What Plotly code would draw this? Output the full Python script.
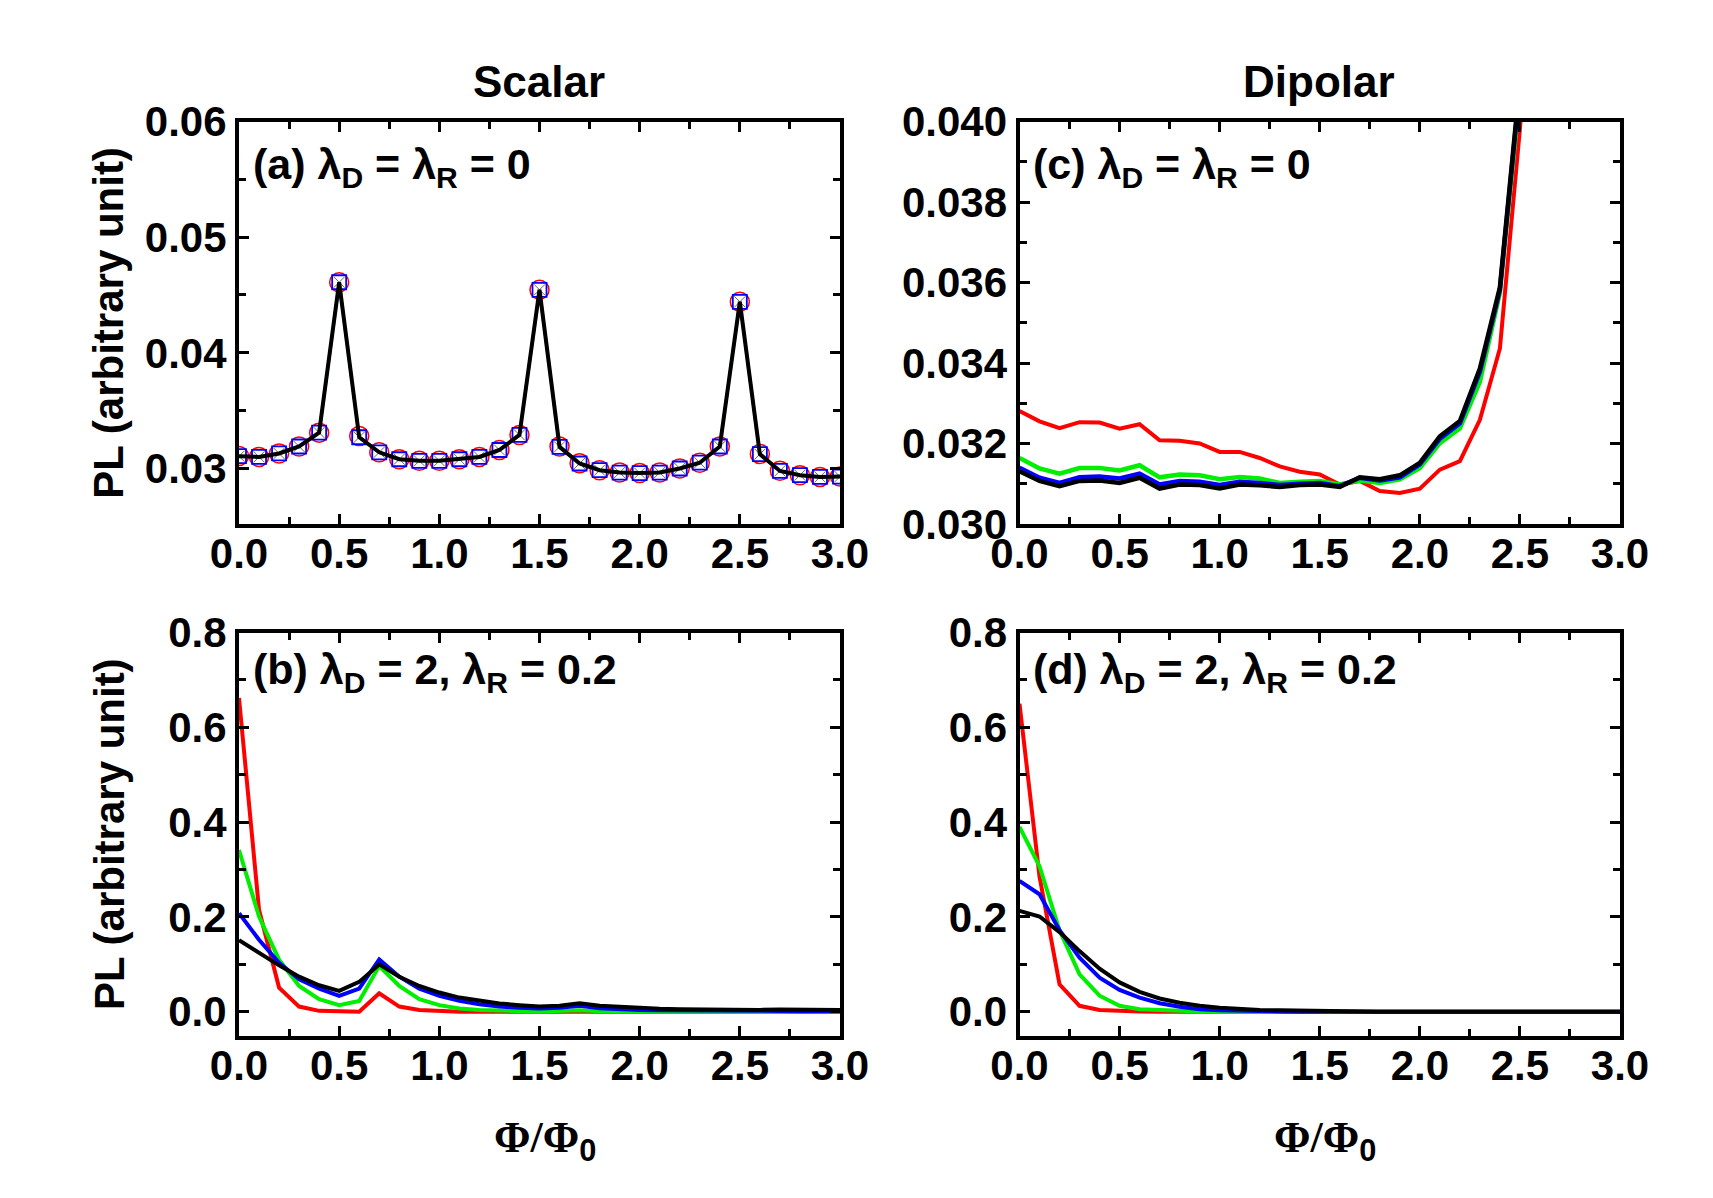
import plotly.graph_objects as go

# ---------------- data ----------------
phi = [0.0, 0.1, 0.2, 0.3, 0.4, 0.5, 0.6, 0.7, 0.8, 0.9, 1.0,
       1.1, 1.2, 1.3, 1.4, 1.5, 1.6, 1.7, 1.8, 1.9, 2.0,
       2.1, 2.2, 2.3, 2.4, 2.5, 2.6, 2.7, 2.8, 2.9, 3.0]

# (a) scalar, lambda_D = lambda_R = 0
a_red = [0.03108, 0.0310, 0.0313, 0.0319, 0.0331, 0.0461, 0.0328, 0.0314, 0.0308, 0.03066, 0.03066,
         0.0308, 0.0310, 0.0316, 0.0329, 0.04545, 0.0319, 0.03045, 0.02985, 0.02965, 0.0296,
         0.02965, 0.0300, 0.0305, 0.0319, 0.04441, 0.03126, 0.0298, 0.02942, 0.02927, 0.0293]
a_green = [0.03105, 0.0310, 0.0313, 0.0319, 0.0331, 0.0460, 0.0327, 0.0314, 0.0308, 0.03066, 0.03066,
           0.0308, 0.0310, 0.0316, 0.0329, 0.04540, 0.03187, 0.03043, 0.02985, 0.02965, 0.0296,
           0.02965, 0.0300, 0.0305, 0.0319, 0.04436, 0.03124, 0.02979, 0.02942, 0.02927, 0.0293]
a_blue = [0.03106, 0.0310, 0.0313, 0.0319, 0.0331, 0.0461, 0.0327, 0.0314, 0.0308, 0.03066, 0.03066,
          0.0308, 0.0310, 0.0316, 0.0329, 0.04545, 0.03187, 0.03043, 0.02985, 0.02965, 0.0296,
          0.02965, 0.0300, 0.0305, 0.0319, 0.04441, 0.03124, 0.02979, 0.02942, 0.02927, 0.0293]
a_black = [0.03106, 0.0310, 0.0313, 0.0319, 0.0331, 0.0461, 0.0327, 0.0314, 0.0308, 0.03066, 0.03066,
           0.0308, 0.0310, 0.0316, 0.0329, 0.04545, 0.03187, 0.03043, 0.02985, 0.02965, 0.0296,
           0.02965, 0.0300, 0.0305, 0.0319, 0.04441, 0.03124, 0.02979, 0.02942, 0.02927, 0.0293]

# (c) dipolar, lambda_D = lambda_R = 0 (curves leave the frame above 0.040)
c_red = [0.03281, 0.03255, 0.03238, 0.03253, 0.03252, 0.03237, 0.03248, 0.03208, 0.03207, 0.0320, 0.03179,
         0.03179, 0.03164, 0.03143, 0.0313, 0.03123, 0.03098, 0.03107, 0.03082, 0.03077, 0.03088,
         0.03135, 0.03156, 0.03259, 0.03436, 0.03982, 0.0460]
c_green = [0.03164, 0.03138, 0.03125, 0.03139, 0.03139, 0.03133, 0.03146, 0.03116, 0.03123, 0.03121, 0.03111,
           0.03117, 0.03113, 0.03102, 0.03105, 0.03107, 0.03098, 0.03108, 0.03102, 0.03111, 0.03139,
           0.03201, 0.03238, 0.03353, 0.03575, 0.0407]
c_blue = [0.0314, 0.03115, 0.03102, 0.03116, 0.03118, 0.03113, 0.03125, 0.03098, 0.03107, 0.03105, 0.03097,
          0.03105, 0.03102, 0.03097, 0.0310, 0.03102, 0.03094, 0.03115, 0.03108, 0.03116, 0.03148,
          0.03212, 0.0325, 0.03378, 0.03582, 0.0409]
c_black = [0.03131, 0.03107, 0.03094, 0.03107, 0.03108, 0.03102, 0.03115, 0.03088, 0.03098, 0.03097, 0.03088,
           0.03098, 0.03096, 0.03092, 0.03097, 0.03098, 0.03092, 0.03116, 0.03111, 0.03121, 0.03152,
           0.03218, 0.03256, 0.03386, 0.03588, 0.0410]

# (b) scalar, lambda_D = 2, lambda_R = 0.2
b_red = [0.662, 0.215, 0.051, 0.011, 0.002, 0.0, 0.0, 0.039, 0.011, 0.004, 0.001,
         0.0, 0.0, 0.0, 0.0, 0.0, 0.0, 0.001, 0.0, 0.0, 0.0,
         0.0, 0.0, 0.0, 0.0, 0.0, 0.0, 0.0, 0.0, 0.0, 0.0]
b_green = [0.341, 0.201, 0.110, 0.0545, 0.0266, 0.014, 0.023, 0.0965, 0.0545, 0.0266, 0.014,
           0.007, 0.004, 0.002, 0.0014, 0.0007, 0.0014, 0.003, 0.001, 0.0005, 0.0,
           0.0, 0.0, 0.0, 0.0, 0.0, 0.0, 0.0, 0.0, 0.0, 0.0]
b_blue = [0.208, 0.152, 0.1035, 0.0685, 0.049, 0.0336, 0.049, 0.1105, 0.074, 0.049, 0.0336,
          0.023, 0.016, 0.011, 0.0084, 0.007, 0.0084, 0.0126, 0.0077, 0.0056, 0.004,
          0.0035, 0.003, 0.002, 0.002, 0.0014, 0.0014, 0.002, 0.0014, 0.0014, 0.0014]
b_black = [0.151, 0.1245, 0.098, 0.074, 0.056, 0.044, 0.063, 0.100, 0.074, 0.0545, 0.0406,
           0.030, 0.023, 0.0175, 0.014, 0.011, 0.0126, 0.018, 0.0126, 0.0098, 0.0077,
           0.0063, 0.0056, 0.005, 0.004, 0.004, 0.004, 0.005, 0.004, 0.004, 0.004]

# (d) dipolar, lambda_D = 2, lambda_R = 0.2
d_red = [0.650, 0.285, 0.058, 0.0126, 0.004, 0.0014, 0.0005, 0.0, 0.0, 0.0, 0.0,
         0.0, 0.0, 0.0, 0.0, 0.0, 0.0, 0.0, 0.0, 0.0, 0.0,
         0.0, 0.0, 0.0, 0.0, 0.0, 0.0, 0.0, 0.0, 0.0, 0.0]
d_green = [0.390, 0.307, 0.172, 0.079, 0.034, 0.0126, 0.0056, 0.0035, 0.0014, 0.0007, 0.0,
           0.0, 0.0, 0.0, 0.0, 0.0, 0.0, 0.0, 0.0, 0.0, 0.0,
           0.0, 0.0, 0.0, 0.0, 0.0, 0.0, 0.0, 0.0, 0.0, 0.0]
d_blue = [0.276, 0.248, 0.172, 0.114, 0.072, 0.046, 0.030, 0.018, 0.0105, 0.0056, 0.0035,
          0.002, 0.0014, 0.0007, 0.0, 0.0, 0.0, 0.0, 0.0, 0.0, 0.0,
          0.0, 0.0, 0.0, 0.0, 0.0, 0.0, 0.0, 0.0, 0.0, 0.0]
d_black = [0.213, 0.201, 0.168, 0.128, 0.091, 0.062, 0.042, 0.028, 0.019, 0.0126, 0.0084,
           0.0056, 0.004, 0.003, 0.002, 0.0014, 0.0007, 0.0, 0.0, 0.0, 0.0,
           0.0, 0.0, 0.0, 0.0, 0.0, 0.0, 0.0, 0.0, 0.0, 0.0]

column_titles = ["Scalar", "Dipolar"]
panel_labels = ["(a) λ<sub>D</sub> = λ<sub>R</sub> = 0",
                "(c) λ<sub>D</sub> = λ<sub>R</sub> = 0",
                "(b) λ<sub>D</sub> = 2, λ<sub>R</sub> = 0.2",
                "(d) λ<sub>D</sub> = 2, λ<sub>R</sub> = 0.2"]
y_title = "PL (arbitrary unit)"

RED, GREEN, BLUE, BLACK = "#ff0000", "#00ee00", "#0000ff", "#000000"

fig = go.Figure()

def line(x, y, color, width, ax, dash="solid"):
    fig.add_trace(go.Scatter(x=x, y=y, mode="lines", line=dict(color=color, width=width, dash=dash),
                             xaxis="x" + ax, yaxis="y" + ax, showlegend=False, hoverinfo="skip"))

# panel (a)
fig.add_trace(go.Scatter(x=phi, y=a_red, mode="lines+markers",
                         line=dict(color=RED, width=2, dash="dash"),
                         marker=dict(symbol="circle-open", size=19, color=RED, line=dict(width=1.5)),
                         xaxis="x", yaxis="y", showlegend=False))
line(phi, a_green, GREEN, 3, "")
fig.add_trace(go.Scatter(x=phi, y=a_blue, mode="lines+markers",
                         line=dict(color=BLUE, width=2),
                         marker=dict(symbol="square-open", size=14, color=BLUE, line=dict(width=1.8)),
                         xaxis="x", yaxis="y", showlegend=False))
fig.add_trace(go.Scatter(x=phi, y=a_black, mode="markers",
                         marker=dict(symbol="x-thin-open", size=11, color="#666666", line=dict(width=1, color="#666666")),
                         xaxis="x", yaxis="y", showlegend=False))
line(phi, a_black, BLACK, 4, "")

# panel (c)
line(phi[:len(c_red)], c_red, RED, 4, "2")
line(phi[:len(c_green)], c_green, GREEN, 4.5, "2")
line(phi[:len(c_blue)], c_blue, BLUE, 4.5, "2")
line(phi[:len(c_black)], c_black, BLACK, 4.5, "2")

# panel (b)
line(phi, b_red, RED, 4, "3")
line(phi, b_green, GREEN, 4, "3")
line(phi, b_blue, BLUE, 4, "3")
line(phi, b_black, BLACK, 4, "3")

# panel (d)
line(phi, d_red, RED, 4, "4")
line(phi, d_green, GREEN, 4, "4")
line(phi, d_blue, BLUE, 4, "4")
line(phi, d_black, BLACK, 4, "4")

W, H = 1713, 1198
XL = [239 / W, 840 / W]
XR = [1019.5 / W, 1620 / W]
YT = [1 - 524 / H, 1 - 121.5 / H]
YB = [1 - 1035.5 / H, 1 - 632.5 / H]

tickfont = dict(family="Arial, Liberation Sans", size=42, color="black", weight="bold")

def xax(domain, anchor):
    return dict(domain=domain, anchor=anchor, range=[0, 3], dtick=0.5, tick0=0, tickformat=".1f",
                showline=True, linewidth=4, linecolor="black", mirror="ticks",
                ticks="inside", ticklen=10, tickwidth=3, tickcolor="black",
                minor=dict(ticks="inside", dtick=0.25, ticklen=7, tickwidth=3, tickcolor="black"),
                showgrid=False, zeroline=False, tickfont=tickfont, automargin=False,
                ticklabelstandoff=-10)

def yax(domain, anchor, rng, dtick, mdtick, fmt):
    return dict(domain=domain, anchor=anchor, range=rng, dtick=dtick, tick0=0, tickformat=fmt,
                showline=True, linewidth=4, linecolor="black", mirror="ticks",
                ticks="inside", ticklen=10, tickwidth=3, tickcolor="black",
                minor=dict(ticks="inside", dtick=mdtick, ticklen=7, tickwidth=3, tickcolor="black"),
                showgrid=False, zeroline=False, tickfont=tickfont, automargin=False)

fig.update_layout(
    width=W, height=H, margin=dict(l=0, r=0, t=0, b=0, pad=0, autoexpand=False),
    autosize=False,
    paper_bgcolor="white", plot_bgcolor="white",
    xaxis=xax(XL, "y"), yaxis=yax(YT, "x", [0.0252, 0.06], 0.01, 0.005, ".2f"),
    xaxis2=xax(XR, "y2"), yaxis2=yax(YT, "x2", [0.030, 0.040], 0.002, 0.001, ".3f"),
    xaxis3=xax(XL, "y3"), yaxis3=yax(YB, "x3", [-0.05, 0.8], 0.2, 0.1, ".1f"),
    xaxis4=xax(XR, "y4"), yaxis4=yax(YB, "x4", [-0.05, 0.8], 0.2, 0.1, ".1f"),
)

ann = []
bold = dict(family="Arial, Liberation Sans", color="black", weight="bold")
# column titles
ann.append(dict(text=column_titles[0], x=539 / W, y=1 - 82 / H, xref="paper", yref="paper",
                showarrow=False, font=dict(size=44, **bold), xanchor="center", yanchor="middle"))
ann.append(dict(text=column_titles[1], x=1319 / W, y=1 - 82 / H, xref="paper", yref="paper",
                showarrow=False, font=dict(size=44, **bold), xanchor="center", yanchor="middle"))
# panel labels
pos = [(251, 167), (1031, 167), (251, 672), (1031, 672)]
for t, (px, py) in zip(panel_labels, pos):
    ann.append(dict(text=t, x=px / W, y=1 - py / H, xref="paper", yref="paper", showarrow=False,
                    font=dict(size=43, **bold), xanchor="left", yanchor="middle"))
# y titles
for yc in [(121.5 + 524) / 2, (632.5 + 1035.5) / 2]:
    ann.append(dict(text=y_title, x=109 / W, y=1 - yc / H, xref="paper", yref="paper", showarrow=False,
                    textangle=-90, font=dict(size=42, **bold), xanchor="center", yanchor="middle"))
# x titles
xt = "<span style='font-family:Liberation Serif'>Φ/Φ</span><sub>0</sub>"
for xc in [545, 1325]:
    ann.append(dict(text=xt, x=xc / W, y=1 - 1140 / H, xref="paper", yref="paper", showarrow=False,
                    font=dict(size=44, **bold), xanchor="center", yanchor="middle"))
fig.update_layout(annotations=ann)

fig.write_html("out.html", config={"responsive": False})
